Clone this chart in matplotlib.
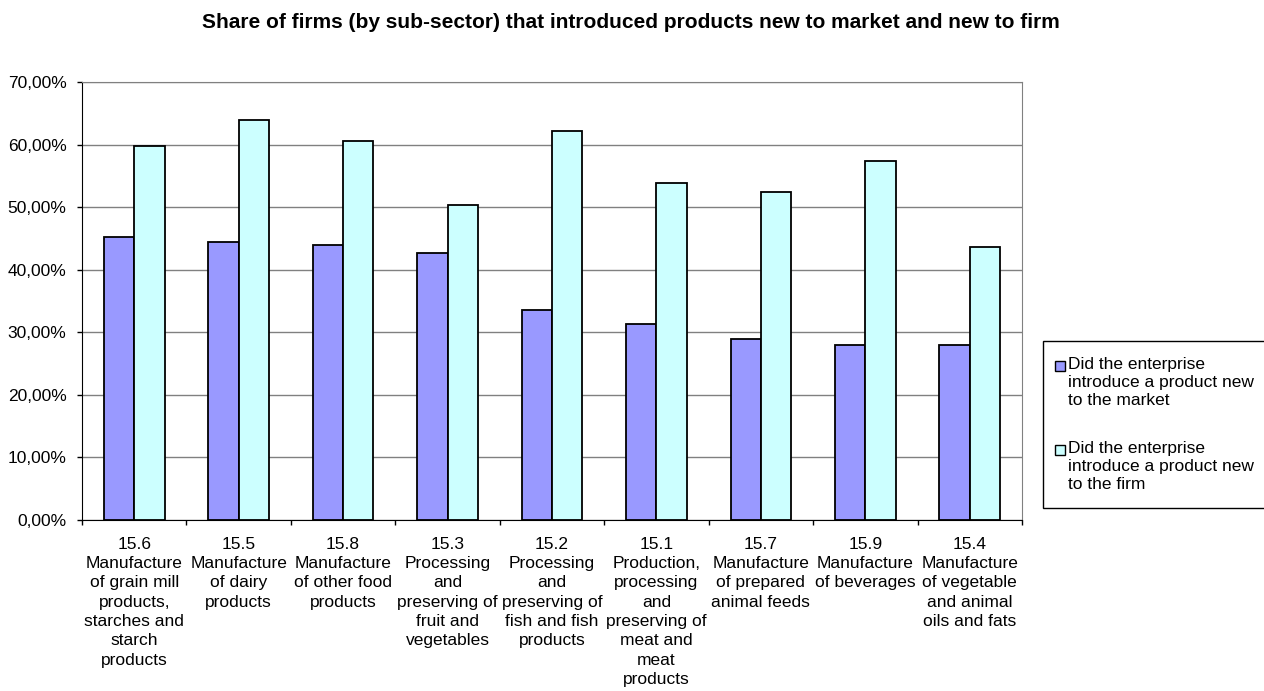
import matplotlib.pyplot as plt
import numpy as np
from matplotlib.ticker import FuncFormatter, FixedLocator
from matplotlib.patches import Rectangle

plt.rcParams['font.family'] = ['Liberation Sans', 'DejaVu Sans']

categories = [
    "15.6\nManufacture\nof grain mill\nproducts,\nstarches and\nstarch\nproducts",
    "15.5\nManufacture\nof dairy\nproducts",
    "15.8\nManufacture\nof other food\nproducts",
    "15.3\nProcessing\nand\npreserving of\nfruit and\nvegetables",
    "15.2\nProcessing\nand\npreserving of\nfish and fish\nproducts",
    "15.1\nProduction,\nprocessing\nand\npreserving of\nmeat and\nmeat\nproducts",
    "15.7\nManufacture\nof prepared\nanimal feeds",
    "15.9\nManufacture\nof beverages",
    "15.4\nManufacture\nof vegetable\nand animal\noils and fats",
]
new_to_market = [45.3, 44.5, 43.9, 42.6, 33.5, 31.3, 28.9, 28.0, 28.0]
new_to_firm = [59.7, 64.0, 60.6, 50.3, 62.2, 53.8, 52.5, 57.4, 43.7]

series_labels = ["Did the enterprise\nintroduce a product new\nto the market",
                 "Did the enterprise\nintroduce a product new\nto the firm"]
series_colors = ["#9999FF", "#CCFFFF"]

W, H = 1264, 691
fig = plt.figure(figsize=(W / 100, H / 100), dpi=100)
ax = fig.add_axes([82 / W, 1 - 520 / H, 940 / W, 438 / H])

x = np.arange(len(categories))
w = 0.29
ax.bar(x - w / 2, new_to_market, w, color=series_colors[0], edgecolor="black", linewidth=1.3, zorder=3)
ax.bar(x + w / 2, new_to_firm, w, color=series_colors[1], edgecolor="black", linewidth=1.3, zorder=3)

ax.set_xlim(-0.5, len(categories) - 0.5)
ax.set_ylim(0, 70)
ax.set_yticks(np.arange(0, 71, 10))
ax.yaxis.set_major_formatter(FuncFormatter(lambda v, p: f"{v:.2f}%".replace(".", ",")))
ax.yaxis.grid(True, color="#808080", linewidth=1, zorder=0)

ax.set_xticks(x)
ax.set_xticklabels(categories, fontsize=12.5, linespacing=1.36)
ax.tick_params(axis="x", which="major", length=0, pad=12)
ax.xaxis.set_minor_locator(FixedLocator(np.arange(-0.5, len(categories), 1)))
ax.tick_params(axis="x", which="minor", length=3.6, width=1, direction="out")
ax.tick_params(axis="y", length=3.6, width=1, labelsize=12.5, pad=7.5, direction="out")

for s in ["top", "right"]:
    ax.spines[s].set_color("#808080")
for s in ["left", "bottom"]:
    ax.spines[s].set_color("black")

fig.text(631 / W, 1 - 22 / H,
         "Share of firms (by sub-sector) that introduced products new to market and new to firm",
         ha="center", va="center", fontsize=15, fontweight="bold")

# legend drawn by hand so the swatch sits on the first text line
def px(xp, yp):
    return xp / W, 1 - yp / H

fig.patches.append(Rectangle(px(1043, 508), 230 / W, 167 / H, transform=fig.transFigure,
                             facecolor="white", edgecolor="black", linewidth=1))
for i, (lab, col) in enumerate(zip(series_labels, series_colors)):
    y0 = 366 + i * 84
    fig.patches.append(Rectangle(px(1055, y0 + 5), 10 / W, 10 / H, transform=fig.transFigure,
                                 facecolor=col, edgecolor="black", linewidth=1))
    fig.text(1068 / W, 1 - (y0 - 9) / H, lab, ha="left", va="top", fontsize=12.5, linespacing=1.24)

fig.savefig("out.png", dpi=100)
